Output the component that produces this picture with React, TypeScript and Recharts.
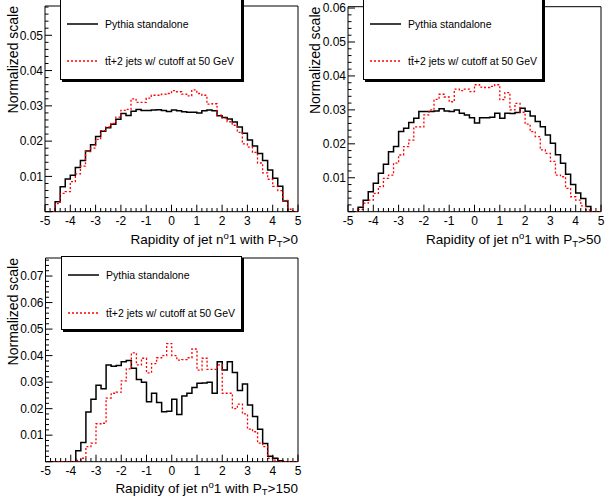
import React from 'react';
import { LineChart, Line, XAxis, YAxis, ReferenceArea, Legend } from 'recharts';

const FONT = "'Liberation Sans', Arial, Helvetica, sans-serif";

// Low edges of the 50 rapidity bins (width 0.2), upper edge of the last bin
const BIN_LOW_EDGES = [
  -5.0, -4.8, -4.6, -4.4, -4.2, -4.0, -3.8, -3.6, -3.4, -3.2,
  -3.0, -2.8, -2.6, -2.4, -2.2, -2.0, -1.8, -1.6, -1.4, -1.2,
  -1.0, -0.8, -0.6, -0.4, -0.2, 0.0, 0.2, 0.4, 0.6, 0.8,
  1.0, 1.2, 1.4, 1.6, 1.8, 2.0, 2.2, 2.4, 2.6, 2.8,
  3.0, 3.2, 3.4, 3.6, 3.8, 4.0, 4.2, 4.4, 4.6, 4.8,
];
const X_UPPER = 5.0;

const X_TICK_LABELS = ['-5', '-4', '-3', '-2', '-1', '0', '1', '2', '3', '4', '5'];

// PT > 0
const PT0_PYTHIA = [
  0, 0, 0.0028, 0.0071, 0.0093, 0.0103, 0.0125, 0.0145, 0.0172, 0.0190,
  0.0213, 0.0228, 0.0238, 0.0248, 0.0262, 0.0278, 0.0273, 0.0285, 0.0290, 0.0287,
  0.0287, 0.0288, 0.0289, 0.0287, 0.0284, 0.0288, 0.0286, 0.0283, 0.0282, 0.0282,
  0.0280, 0.0286, 0.0288, 0.0286, 0.0272, 0.0267, 0.0263, 0.0254, 0.0240, 0.0222,
  0.0203, 0.0186, 0.0165, 0.0145, 0.0118, 0.0095, 0.0072, 0.0030, 0, 0,
];
const PT0_TTJJ = [
  0, 0, 0.0023, 0.0052, 0.0057, 0.0085, 0.0107, 0.0129, 0.0170, 0.0180,
  0.0205, 0.0230, 0.0240, 0.0250, 0.0268, 0.0287, 0.0290, 0.0320, 0.0310, 0.0310,
  0.0322, 0.0330, 0.0330, 0.0333, 0.0335, 0.0343, 0.0340, 0.0333, 0.0328, 0.0345,
  0.0335, 0.0330, 0.0305, 0.0306, 0.0274, 0.0265, 0.0255, 0.0245, 0.0225, 0.0192,
  0.0183, 0.0168, 0.0138, 0.0110, 0.0092, 0.0072, 0.0060, 0.0032, 0.0007, 0,
];

// PT > 50
const PT50_PYTHIA = [
  0, 0, 0.0013, 0.0034, 0.0059, 0.0084, 0.0113, 0.0140, 0.0177, 0.0192,
  0.0236, 0.0246, 0.0263, 0.0275, 0.0295, 0.0295, 0.0295, 0.0297, 0.0303, 0.0297,
  0.0295, 0.0300, 0.0290, 0.0285, 0.0277, 0.0261, 0.0277, 0.0277, 0.0278, 0.0290,
  0.0275, 0.0290, 0.0289, 0.0292, 0.0305, 0.0296, 0.0282, 0.0266, 0.0250, 0.0226,
  0.0202, 0.0168, 0.0143, 0.0110, 0.0080, 0.0055, 0.0039, 0.0015, 0, 0,
];
const PT50_TTJJ = [
  0, 0, 0.0007, 0.0025, 0.0034, 0.0054, 0.0074, 0.0098, 0.0108, 0.0143,
  0.0167, 0.0192, 0.0211, 0.0250, 0.0250, 0.0285, 0.0300, 0.0331, 0.0346, 0.0338,
  0.0324, 0.0361, 0.0357, 0.0361, 0.0354, 0.0374, 0.0367, 0.0366, 0.0369, 0.0374,
  0.0330, 0.0351, 0.0300, 0.0319, 0.0293, 0.0258, 0.0236, 0.0221, 0.0182, 0.0172,
  0.0148, 0.0108, 0.0103, 0.0069, 0.0044, 0.0034, 0.0017, 0.0005, 0, 0,
];

// PT > 150
const PT150_PYTHIA = [
  0, 0, 0, 0, 0, 0, 0.0041, 0.0072, 0.0187, 0.0235,
  0.0288, 0.0275, 0.0365, 0.0360, 0.0363, 0.0377, 0.0382, 0.0352, 0.0310, 0.0300,
  0.0226, 0.0258, 0.0223, 0.0188, 0.0190, 0.0235, 0.0178, 0.0248, 0.0258, 0.0280,
  0.0296, 0.0297, 0.0300, 0.0258, 0.0377, 0.0346, 0.0377, 0.0336, 0.0268, 0.0293,
  0.0214, 0.0170, 0.0122, 0.0069, 0.0021, 0.0013, 0.0004, 0, 0, 0,
];
const PT150_TTJJ = [
  0, 0, 0, 0, 0, 0, 0.0005, 0.0013, 0.0057, 0.0070,
  0.0143, 0.0145, 0.0240, 0.0258, 0.0262, 0.0305, 0.0350, 0.0410, 0.0365, 0.0390,
  0.0335, 0.0370, 0.0392, 0.0400, 0.0445, 0.0400, 0.0383, 0.0385, 0.0392, 0.0425,
  0.0345, 0.0390, 0.0348, 0.0348, 0.0365, 0.0258, 0.0258, 0.0200, 0.0217, 0.0180,
  0.0123, 0.0113, 0.0070, 0.0057, 0.0013, 0.0006, 0, 0, 0, 0,
];

const SERIES = [
  { key: 'pythia', name: 'Pythia standalone', color: '#000000', width: 1.5, dash: undefined as string | undefined },
  { key: 'ttjj', name: 'tt\u0304+2 jets w/ cutoff at 50 GeV', color: '#ff0000', width: 1.3, dash: '2 2' },
];

const X_TICKS = Array.from({ length: 51 }, (_, i) => Math.round((-5 + i * 0.2) * 10) / 10);

function yTicksFor(top: number) {
  const n = Math.floor(top / 0.002 + 1e-9);
  return Array.from({ length: n + 1 }, (_, i) => Math.round(i * 2) / 1000);
}

function buildRows(pythia: number[], ttjj: number[]) {
  const rows = BIN_LOW_EDGES.map((x, i) => ({ x, pythia: pythia[i], ttjj: ttjj[i] }));
  rows.push({ x: X_UPPER, pythia: pythia[pythia.length - 1], ttjj: ttjj[ttjj.length - 1] });
  return rows;
}

const XTick = (props: any) => {
  const { x, y, payload } = props;
  const v = payload.value as number;
  const major = Math.abs(v - Math.round(v)) < 1e-6;
  const idx = Math.round(v) + 5;
  return (
    <g>
      <line x1={x} x2={x} y1={y} y2={y - (major ? 7 : 3.7)} stroke="#000" strokeWidth={1} />
      {major && (
        <text x={x} y={y + 13} textAnchor="middle" fontSize={12} fontFamily={FONT} fill="#000">
          {X_TICK_LABELS[idx]}
        </text>
      )}
    </g>
  );
};

const YTick = (props: any) => {
  const { x, y, payload } = props;
  const v = payload.value as number;
  const major = Math.abs(v * 100 - Math.round(v * 100)) < 1e-6;
  return (
    <g>
      <line x1={x} x2={x + (major ? 7 : 3.5)} y1={y} y2={y} stroke="#000" strokeWidth={1} />
      {major && v > 0 && (
        <text x={x - 2} y={y + 4.3} textAnchor="end" fontSize={12} fontFamily={FONT} fill="#000">
          {v.toFixed(2)}
        </text>
      )}
    </g>
  );
};

type PanelProps = {
  left: number;
  top: number;
  width: number;
  height: number;
  plot: { top: number; right: number; bottom: number; left: number };
  yTop: number;
  pythia: number[];
  ttjj: number[];
  ptCut: string;
  legend: { x: number; y: number; w: number; h: number; e1: number; e2: number };
  yTitleX: number;
  xTitleY: number;
};

function Panel(p: PanelProps) {
  const rows = buildRows(p.pythia, p.ttjj);
  const plotRight = p.width - p.plot.right;
  const plotTop = p.plot.top;
  const L = p.legend;
  const legendContent = () => (
    <svg width={L.w + 3} height={L.h + 3} style={{ display: 'block' }}>
      <rect x={2} y={2} width={L.w} height={L.h} fill="#000" />
      <rect x={0.5} y={0.5} width={L.w - 1} height={L.h - 1} fill="#fff" stroke="#000" strokeWidth={1} />
      {SERIES.map((s, i) => {
        const ey = (i === 0 ? L.e1 : L.e2) - L.y;
        return (
          <g key={s.key}>
            <line x1={7} x2={38} y1={ey} y2={ey} stroke={s.color} strokeWidth={s.width} strokeDasharray={s.dash} />
            <text x={45} y={ey + 3.8} fontSize={10.5} fontFamily={FONT} fill="#000">
              {s.name}
            </text>
          </g>
        );
      })}
    </svg>
  );
  return (
    <div style={{ position: 'absolute', left: p.left, top: p.top, width: p.width, height: p.height }}>
      <LineChart
        width={p.width}
        height={p.height}
        data={rows}
        margin={{ top: p.plot.top, right: p.plot.right, bottom: 0, left: 0 }}
      >
        <ReferenceArea
          x1={-5}
          x2={5}
          y1={0}
          y2={p.yTop}
          fill="none"
          stroke="#000"
          strokeWidth={1}
          ifOverflow="visible"
        />
        <XAxis
          type="number"
          dataKey="x"
          domain={[-5, 5]}
          ticks={X_TICKS}
          interval={0}
          tickSize={0}
          tickMargin={0}
          height={p.plot.bottom}
          axisLine={false}
          tickLine={false}
          allowDataOverflow
          tick={(tp: any) => <XTick {...tp} />}
          label={{
            content: () => (
              <text x={plotRight} y={p.xTitleY} textAnchor="end" fontSize={13.5} fontFamily={FONT} fill="#000">
                Rapidity of jet n
                <tspan dy={-5} fontSize={9.5}>o</tspan>
                <tspan dy={5}>1 with P</tspan>
                <tspan dy={2.5} fontSize={9.5}>T</tspan>
                <tspan dy={-2.5}>{'>' + p.ptCut}</tspan>
              </text>
            ),
          }}
        />
        <YAxis
          type="number"
          domain={[0, p.yTop]}
          ticks={yTicksFor(p.yTop)}
          interval={0}
          tickSize={0}
          tickMargin={0}
          width={p.plot.left}
          axisLine={false}
          tickLine={false}
          allowDataOverflow
          tick={(tp: any) => <YTick {...tp} />}
          label={{
            content: () => (
              <text
                transform={`translate(${p.yTitleX}, ${plotTop}) rotate(-90)`}
                textAnchor="end"
                fontSize={14}
                fontFamily={FONT}
                fill="#000"
              >
                Normalized scale
              </text>
            ),
          }}
        />
        {SERIES.map((s) => (
          <Line
            key={s.key}
            type="stepAfter"
            dataKey={s.key}
            name={s.name}
            stroke={s.color}
            strokeWidth={s.width}
            strokeDasharray={s.dash}
            dot={false}
            activeDot={false}
            isAnimationActive={false}
          />
        ))}
        <Legend
          layout="horizontal"
          verticalAlign="middle"
          align="center"
          content={legendContent}
          wrapperStyle={{ position: 'absolute', left: L.x, top: L.y, width: L.w + 3, height: L.h + 3, margin: 0, padding: 0 }}
        />
      </LineChart>
    </div>
  );
}

export default function App() {
  return (
    <div style={{ position: 'absolute', left: 0, top: 0, width: 606, height: 498, background: '#fff', overflow: 'hidden' }}>
      <Panel
        left={0}
        top={0}
        width={303}
        height={250}
        plot={{ top: 6, right: 5, bottom: 38.3, left: 45 }}
        yTop={0.0583}
        pythia={PT0_PYTHIA}
        ttjj={PT0_TTJJ}
        ptCut="0"
        legend={{ x: 60, y: -3, w: 182, h: 83, e1: 24, e2: 61 }}
        yTitleX={18}
        xTitleY={244}
      />
      <Panel
        left={303}
        top={0}
        width={303}
        height={250}
        plot={{ top: 6.7, right: 5, bottom: 38.3, left: 45 }}
        yTop={0.0604}
        pythia={PT50_PYTHIA}
        ttjj={PT50_TTJJ}
        ptCut="50"
        legend={{ x: 60, y: -3, w: 180, h: 83, e1: 24, e2: 61 }}
        yTitleX={17}
        xTitleY={244}
      />
      <Panel
        left={0}
        top={250}
        width={303}
        height={248}
        plot={{ top: 8, right: 5, bottom: 36.3, left: 45.5 }}
        yTop={0.0768}
        pythia={PT150_PYTHIA}
        ttjj={PT150_TTJJ}
        ptCut="150"
        legend={{ x: 61, y: 6, w: 181, h: 74, e1: 25, e2: 63 }}
        yTitleX={18}
        xTitleY={242.5}
      />
    </div>
  );
}
